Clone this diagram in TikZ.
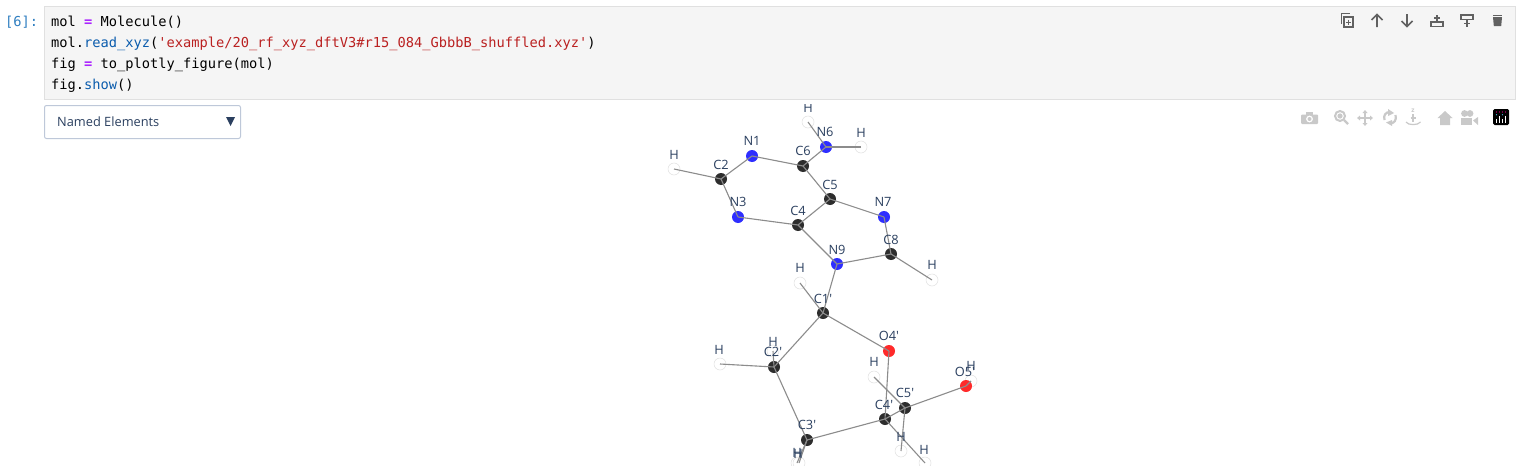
\documentclass[tikz,border=0pt]{standalone}
\usepackage{fontspec}
\setmainfont{Open Sans}
\setmonofont{DejaVu Sans Mono}
\usetikzlibrary{arrows.meta}
\definecolor{cellbg}{HTML}{F5F5F5}
\definecolor{cellbd}{HTML}{E0E0E0}
\definecolor{ddbd}{HTML}{BEC8D9}
\definecolor{ink}{HTML}{2A3F5F}
\definecolor{promptc}{HTML}{307FC1}
\definecolor{iconc}{HTML}{616161}
\definecolor{modec}{HTML}{C9C9C9}
\definecolor{bond}{HTML}{8C8C8C}
\definecolor{cpk}{HTML}{2D2D2D}
\definecolor{npk}{HTML}{2E2EFF}
\definecolor{opk}{HTML}{FF2A2A}
\definecolor{kw}{HTML}{AA22FF}
\definecolor{fn}{HTML}{0B5CAD}
\definecolor{str}{HTML}{BA2121}
\tikzset{
 x=1pt,y=-1pt,
 catom/.style={circle,fill=cpk,inner sep=0,minimum size=12pt},
 natom/.style={circle,fill=npk,inner sep=0,minimum size=12pt},
 oatom/.style={circle,fill=opk,inner sep=0,minimum size=12pt},
 hatom/.style={circle,fill=white,draw=black!12,line width=.5pt,inner sep=0,minimum size=12pt},
 bondline/.style={draw=bond,line width=1.1pt},
 lab/.style={text=ink,font=\fontsize{12.8}{13}\selectfont,inner sep=0},
 code/.style={anchor=base west,inner sep=0,font=\ttfamily\fontsize{13.7}{15}\selectfont},
 iconline/.style={draw=iconc,line width=1.7pt},
 modeline/.style={draw=modec,line width=1.6pt},
}
\begin{document}
\begin{tikzpicture}
\useasboundingbox (0,0) rectangle (1517,474);
\fill[white] (0,0) rectangle (1517,474);
% cell
\node[anchor=base west,inner sep=0,text=promptc,font=\ttfamily\fontsize{13.7}{15}\selectfont] (prompt) at (5,26) {[6]:};
\path[fill=cellbg,draw=cellbd,line width=.8pt] (44.5,6.5) rectangle (1515,99.5);
\node[code] (l1) at (51,26) {mol \textcolor{kw}{\textbf{=}} Molecule()};
\node[code] (l2) at (51,47) {mol.\textcolor{fn}{read\_xyz}(\textcolor{str}{'example/20\_rf\_xyz\_dftV3\#r15\_084\_GbbbB\_shuffled.xyz'})};
\node[code] (l3) at (51,68) {fig \textcolor{kw}{\textbf{=}} to\_plotly\_figure(mol)};
\node[code] (l4) at (51,89) {fig.\textcolor{fn}{show}()};
% dropdown
\path[draw=ddbd,fill=white,rounded corners=2pt,line width=1pt] (44.5,105.5) rectangle (240.5,138.5);
\node[anchor=base west,inner sep=0,text=ink,font=\fontsize{12.8}{13}\selectfont] (dd) at (57,126) {Named Elements};
\fill[ink] (226,117) -- (235,117) -- (230.5,126) -- cycle;
% cell toolbar
\draw[iconline,line width=1.1pt] (1341.5,24) -- (1341.5,13.5) -- (1350,13.5);
\draw[iconline,line width=1.1pt] (1344,17) rectangle (1353,27);
\draw[iconline,line width=1pt] (1348.5,19.5) -- (1348.5,24.5) (1346,22) -- (1351,22);
\draw[iconline] (1377,27) -- (1377,14.5) (1371.5,20) -- (1377,14.5) -- (1382.5,20);
\draw[iconline] (1407,14) -- (1407,26.5) (1401.5,21) -- (1407,26.5) -- (1412.5,21);
\draw[iconline] (1437,15) -- (1437,21) (1434,18) -- (1440,18);
\draw[iconline] (1431,22) rectangle (1443,26.5);
\draw[iconline] (1461,15) rectangle (1473,19.5);
\draw[iconline] (1467,20) -- (1467,27) (1464,23.5) -- (1470,23.5);
\fill[iconc] (1493,17) -- (1502,17) -- (1501.2,26) -- (1493.8,26) -- cycle;
\fill[iconc] (1493,14.5) rectangle (1502,16);
% plotly modebar
\fill[modec,rounded corners=1pt] (1301,114.5) rectangle (1318,124);
\fill[modec] (1306,112) rectangle (1313,115);
\fill[white] (1309.5,119) circle (3.4);
\fill[modec] (1309.5,119) circle (2);
\draw[modeline,line width=2pt] (1340,116) circle (5);
\fill[modec] (1340,116) circle (2.6);
\draw[modeline,line width=2.4pt] (1344,120) -- (1348,124);
\draw[modeline,line width=1.3pt] (1365,112) -- (1365,124) (1358.5,118) -- (1371.5,118);
\fill[modec] (1365,110) -- (1362.5,113) -- (1367.5,113) -- cycle;
\fill[modec] (1365,126) -- (1362.5,123) -- (1367.5,123) -- cycle;
\fill[modec] (1357,118) -- (1360,115.5) -- (1360,120.5) -- cycle;
\fill[modec] (1373,118) -- (1370,115.5) -- (1370,120.5) -- cycle;
\draw[modeline,line width=2.2pt] (1384.5,120) .. controls (1383,115) and (1386,112) .. (1390,112);
\draw[modeline,line width=2.2pt] (1395.5,115) .. controls (1397,120) and (1394,123.5) .. (1390,123.5);
\fill[modec] (1388,109) -- (1394,113) -- (1388,116) -- cycle;
\fill[modec] (1392,120) -- (1386,122.5) -- (1392,126) -- cycle;
\node[inner sep=0,text=modec,font=\bfseries\fontsize{6.5}{7}\selectfont] (zicon) at (1413,110.5) {z};
\draw[modeline,line width=1.2pt] (1413,114) -- (1413,122) (1410.5,118) -- (1415.5,118);
\draw[modeline,line width=1.2pt] (1406,122) .. controls (1408,125.5) and (1418,125.5) .. (1420.5,122);
\fill[modec] (1437.5,118) -- (1445,111) -- (1452.5,118) -- (1450,118) -- (1450,125) -- (1440,125) -- (1440,118) -- cycle;
\fill[modec] (1461,117.5) rectangle (1472,125);
\fill[modec] (1464.5,113.5) circle (3.4);
\fill[modec] (1470,113.5) circle (3.4);
\fill[modec] (1473,120.5) -- (1478,117) -- (1478,125) -- cycle;
\fill[black,rounded corners=1.5pt] (1493,109) rectangle (1509,125);
\draw[white,line width=.9pt] (1496.5,119) -- (1496.5,122.5) (1499.5,116) -- (1499.5,122.5) (1502.5,119) -- (1502.5,122.5) (1505.5,116) -- (1505.5,122.5);
\fill[magenta] (1496.5,112) circle (.7) (1499.5,112) circle (.7) (1502.5,112) circle (.7) (1505.5,112) circle (.7);
\fill[cyan!70!white] (1496.5,114.7) circle (.6) (1502.5,114.7) circle (.6);
% molecule
\begin{scope}
\clip (600,100) rectangle (1100,465);
\node[hatom] (H6a) at (808,122) {};
\node[hatom] (H6b) at (861,147) {};
\node[hatom] (H2) at (674,169) {};
\node[hatom] (H8) at (932,280) {};
\node[hatom] (H1p) at (800,283) {};
\node[hatom] (H2a) at (720,364) {};
\node[hatom] (H2b) at (773,351) {};
\node[hatom] (H5a) at (874,377) {};
\node[hatom] (H5o) at (971,381) {};
\node[hatom] (H5b) at (901,451) {};
\node[hatom] (H4) at (925,463) {};
\node[hatom] (H3a) at (797,463) {};
\node[hatom] (H3b) at (799,463) {};
\node[natom] (N6) at (826,147) {};
\node[natom] (N1) at (752,156) {};
\node[catom] (C6) at (803,166) {};
\node[catom] (C2) at (721,179) {};
\node[catom] (C5) at (830,199) {};
\node[natom] (N3) at (738,217) {};
\node[natom] (N7) at (884,217) {};
\node[catom] (C4) at (798,225) {};
\node[natom] (N9) at (837,264) {};
\node[catom] (C8) at (891,254) {};
\node[catom] (C1p) at (823,313) {};
\node[oatom] (O4p) at (889,351) {};
\node[catom] (C2p) at (774,367) {};
\node[oatom] (O5p) at (966,386) {};
\node[catom] (C5p) at (905,408) {};
\node[catom] (C4p) at (885,419) {};
\node[catom] (C3p) at (807,440) {};
\foreach \a/\b in {H6a/N6,H6b/N6,N6/C6,C6/N1,N1/C2,C2/H2,C2/N3,N3/C4,C4/C5,C5/C6,C5/N7,N7/C8,C8/N9,N9/C4,C8/H8,N9/C1p,C1p/H1p,C1p/C2p,C1p/O4p,O4p/C4p,C2p/H2a,C2p/H2b,C2p/C3p,C3p/C4p,C3p/H3a,C3p/H3b,C4p/C5p,C4p/H4,C5p/H5a,C5p/H5b,C5p/O5p,O5p/H5o}
  \draw[bondline] (\a.center) -- (\b.center);
\end{scope}
% labels
\begin{scope}
\clip (600,104) rectangle (1100,465);
\foreach \t/\x/\y/\n in {H/808/108/a,N6/825/132/b,H/861/133/c,N1/752/141/d,C6/803/151/e,H/674/155/f,C2/721/165/g,C5/830/185/h,N3/738/202/i,N7/883/202/j,C4/798/211/k,C8/891/240/l,N9/837/250/m,H/932/265/n,H/800/268/o,C1\textquotesingle/823/299/p,O4\textquotesingle/889/336/q,H/773/342/r,C2\textquotesingle/773/352/s,H/719/350/t,H/874/362/u,O5\textquotesingle/965/372/v,H/971/366/w,C5\textquotesingle/905/393/x,C4\textquotesingle/884/405/y,C3\textquotesingle/807/425/z,H/901/437/aa,H/924/450/ab,H/797/453/ac,H/798/454/ad}
  \node[lab] (L\n) at (\x,\y) {\t};
\end{scope}
\end{tikzpicture}
\end{document}
